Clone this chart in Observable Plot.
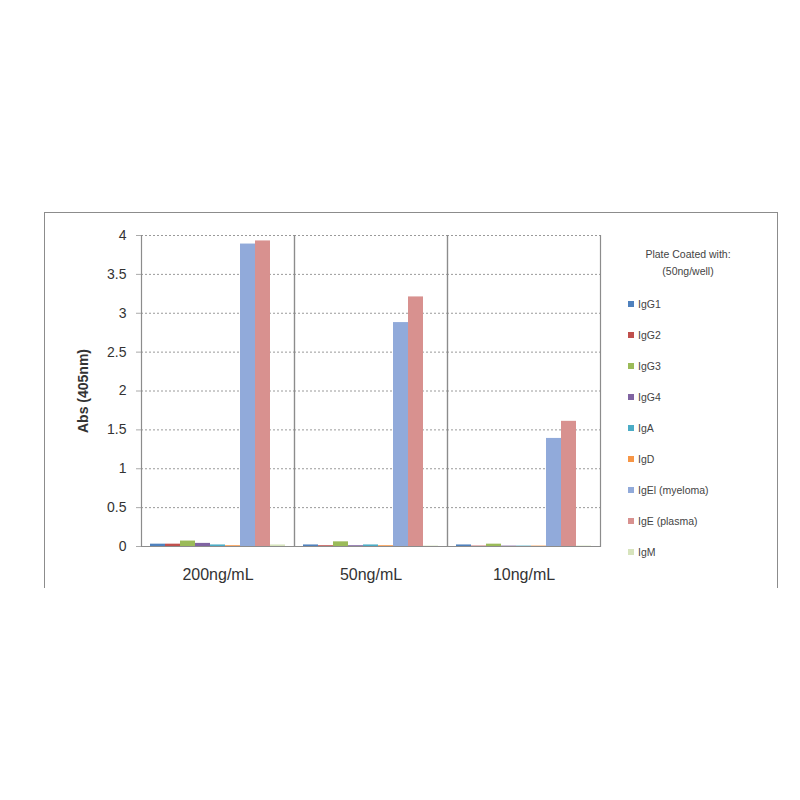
<!DOCTYPE html>
<html><head><meta charset="utf-8">
<script src="https://cdn.jsdelivr.net/npm/d3@7"></script>
<script src="https://cdn.jsdelivr.net/npm/@observablehq/plot@0.6"></script>
<style>
body{margin:0;background:#fff;font-family:"Liberation Sans",Arial,sans-serif;width:800px;height:800px;position:relative;}
#box{position:absolute;left:44px;top:212px;width:734px;height:376px;border:1.5px solid #8c8c8c;border-bottom:none;box-sizing:border-box;}
#chart{position:absolute;left:44px;top:212px;}
#legend{position:absolute;left:612px;top:246px;width:152px;font-size:10.5px;color:#444;}
#legend .title{text-align:center;line-height:17px;margin-bottom:8px;}
#legend .item{display:flex;align-items:center;height:31px;padding-left:16px;}
#legend .sw{width:6px;height:6px;margin-right:4px;}
</style></head><body>
<div id="box"></div>
<div id="chart"></div>
<div id="legend"></div>
<script>
const concentrations = ["200ng/mL", "50ng/mL", "10ng/mL"];
const series = ["IgG1", "IgG2", "IgG3", "IgG4", "IgA", "IgD", "IgEl (myeloma)", "IgE (plasma)", "IgM"];
const colors = ["#4F81BD", "#C0504D", "#9BBB59", "#8064A2", "#4BACC6", "#F79646", "#91AADA", "#D8918F", "#D7E4BD"];
const abs200 = [0.03, 0.03, 0.07, 0.04, 0.02, 0.01, 3.89, 3.93, 0.02];
const abs50 = [0.02, 0.01, 0.06, 0.01, 0.02, 0.01, 2.88, 3.21, 0.005];
const abs10 = [0.02, 0.005, 0.03, 0.005, 0.005, 0.005, 1.39, 1.61, 0.005];
const yTicks = [0, 0.5, 1, 1.5, 2, 2.5, 3, 3.5, 4];
const legendTitle = ["Plate Coated with:", "(50ng/well)"];
const yLabel = "Abs (405nm)";

const valuesByConc = [abs200, abs50, abs10];
const data = [];
concentrations.forEach((c, i) => series.forEach((s, j) => data.push({conc: c, series: s, value: valuesByConc[i][j]})));

const chart = Plot.plot({
  width: 560, height: 376,
  marginLeft: 96, marginRight: 4, marginTop: 23, marginBottom: 42,
  style: {fontFamily: '"Liberation Sans", Arial, sans-serif', color: "#333", background: "transparent"},
  fx: {domain: concentrations, padding: 0, label: null},
  x: {domain: series, paddingInner: 0, paddingOuter: 0.45, axis: null},
  y: {domain: [0, 4], label: null},
  color: {domain: series, range: colors},
  marks: [
    Plot.gridY(yTicks, {stroke: "#9a9a9a", strokeOpacity: 1, strokeDasharray: "2,2", strokeWidth: 1}),
    Plot.barY(data, {fx: "conc", x: "series", y: "value", fill: "series"}),
    Plot.ruleY([0], {stroke: "#8c8c8c", strokeWidth: 1.2}),
    Plot.frame({anchor: "left", stroke: "#8c8c8c", strokeWidth: 1.2}),
    Plot.frame({anchor: "right", stroke: "#8c8c8c", strokeWidth: 1.2}),
    Plot.axisY({ticks: yTicks, tickFormat: d3.format(""), tickSize: 5, tickPadding: 10, fontSize: 14, stroke: "#aaa", label: null}),
    Plot.axisY({ticks: [], label: yLabel, labelAnchor: "center", labelOffset: 63, labelArrow: "none", fontSize: 14, fontWeight: "bold", tickSize: 0}),
    Plot.axisFx({anchor: "bottom", tickSize: 0, tickPadding: 22, fontSize: 16, label: null})
  ]
});
document.getElementById("chart").appendChild(chart);

const leg = document.getElementById("legend");
const t = document.createElement("div");
t.className = "title";
t.innerHTML = legendTitle.join("<br>");
leg.appendChild(t);
series.forEach((s, i) => {
  const it = document.createElement("div");
  it.className = "item";
  const sw = document.createElement("span");
  sw.className = "sw";
  sw.style.background = colors[i];
  const tx = document.createElement("span");
  tx.textContent = s;
  it.appendChild(sw); it.appendChild(tx);
  leg.appendChild(it);
});
</script>
</body></html>
